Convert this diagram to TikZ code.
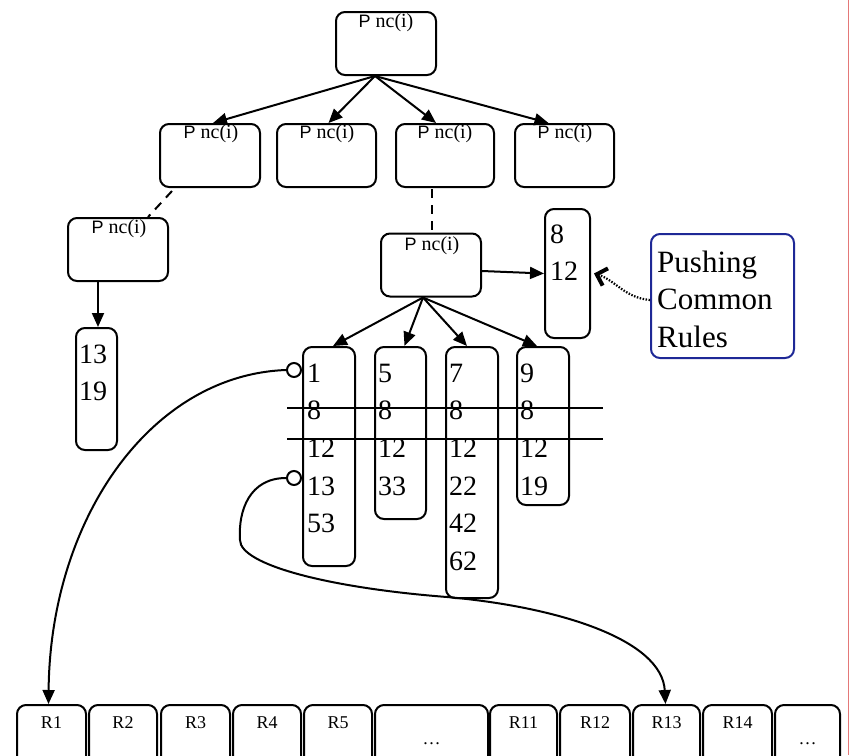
\documentclass[tikz,border=0pt]{standalone}
\usepackage{fontspec}
\setmainfont{Liberation Serif}
\newfontfamily\arialfam{Liberation Sans}
\usetikzlibrary{arrows.meta}
\definecolor{ruleblue}{RGB}{30,40,150}
\definecolor{marginred}{RGB}{228,120,120}

\newcommand{\pnc}{{\arialfam\fontsize{18}{20}\selectfont P} nc(i)}

\begin{document}
\begin{tikzpicture}[x=1pt,y=-1pt,
  pbox/.style={draw, line width=2pt, rounded corners=9pt, inner sep=0pt, minimum width=#1, minimum height=63pt},
  pbox/.default=100pt,
  lbox/.style={draw, line width=2pt, rounded corners=9pt, inner sep=0pt},
  rbox/.style={draw, line width=2pt, rounded corners=9pt, inner sep=0pt, minimum height=70pt},
  ptitle/.style={font=\fontsize{20}{22}\selectfont, inner sep=0pt, anchor=base},
  % multi-line lists are anchored at the baseline of their last line
  nums/.style={font=\fontsize{28}{37.7}\selectfont, inner sep=0pt, align=left, anchor=base west},
  rlab/.style={font=\fontsize{18}{20}\selectfont, inner sep=0pt, anchor=base},
  arr/.style={line width=2pt, -{Triangle[length=14pt,width=12pt]}},
  dashedge/.style={line width=2pt, dash pattern=on 9pt off 7pt},
  strike/.style={line width=2pt},
  hook/.style={draw, circle, line width=2pt, fill=white, minimum size=14pt, inner sep=0pt},
]
\useasboundingbox (0,0) rectangle (850,755);
\clip (0,0) rectangle (850,755);

% page margin rule
\draw[marginred, line width=1pt] (848,0) -- (848,755);

% tree of P nc(i) boxes
\node[pbox] (top) at (386,43.5) {};
\node[ptitle] (topt) at (386,27) {\pnc};
\node[pbox] (A) at (210,155.5) {};
\node[ptitle] (At) at (211,138) {\pnc};
\node[pbox=99pt] (B) at (326.5,155.5) {};
\node[ptitle] (Bt) at (327,138) {\pnc};
\node[pbox=98pt] (C) at (445,155.5) {};
\node[ptitle] (Ct) at (445,138) {\pnc};
\node[pbox=99pt] (D) at (564.5,155.5) {};
\node[ptitle] (Dt) at (565,138) {\pnc};
\node[pbox] (L) at (118,249.5) {};
\node[ptitle] (Lt) at (119,233) {\pnc};
\node[pbox] (R) at (431,265) {};
\node[ptitle] (Rt) at (432,250) {\pnc};

\draw[arr] ([xshift=-11pt]top.south) -- ([xshift=3pt]A.north);
\draw[arr] ([xshift=-11pt]top.south) -- ([xshift=2pt]B.north);
\draw[arr] ([xshift=-11pt]top.south) -- ([xshift=-9pt]C.north);
\draw[arr] ([xshift=-11pt]top.south) -- ([xshift=-16pt]D.north);

\draw[dashedge] ([xshift=-38pt,yshift=-3pt]A.south) -- ([xshift=30pt]L.north);
\draw[dashedge] ([xshift=-13pt,yshift=-1pt]C.south) -- ([xshift=-13pt]C.south |- R.north);

% rule lists
\node[lbox, minimum width=41pt, minimum height=122pt] (N1) at (96.5,389) {};
\node[nums] (N1t) at (79,400.7) {13\\19};
\node[lbox, minimum width=45pt, minimum height=129pt] (N2) at (567.5,273.5) {};
\node[nums] (N2t) at (550,280.7) {8\\12};

\node[lbox, minimum width=52pt, minimum height=219pt] (K1) at (329,456.5) {};
\node[nums] (K1t) at (307,532.8) {1\\8\\12\\13\\53};
\node[lbox, minimum width=51pt, minimum height=172pt] (K2) at (400.5,433) {};
\node[nums] (K2t) at (378,495.1) {5\\8\\12\\33};
\node[lbox, minimum width=52pt, minimum height=251pt] (K3) at (472,472.5) {};
\node[nums] (K3t) at (449,570.5) {7\\8\\12\\22\\42\\62};
\node[lbox, minimum width=52pt, minimum height=158pt] (K4) at (543,426) {};
\node[nums] (K4t) at (520,495.1) {9\\8\\12\\19};

\draw[arr] ([xshift=-20pt]L.south) -- ([xshift=-20pt]L.south |- N1.north);
\draw[arr] ([yshift=-6pt]R.east) -- (N2.west);
\draw[arr] ([xshift=-8pt]R.south) -- ([xshift=4pt]K1.north);
\draw[arr] ([xshift=-8pt]R.south) -- ([xshift=4pt]K2.north);
\draw[arr] ([xshift=-8pt]R.south) -- ([xshift=-5pt]K3.north);
\draw[arr] ([xshift=-8pt]R.south) -- ([xshift=-6pt]K4.north);

% common rules struck through
\coordinate (s1a) at (287,408);
\coordinate (s1b) at (603,408);
\coordinate (s2a) at (287,439);
\coordinate (s2b) at (603,439);
\draw[strike] (s1a) -- (s1b);
\draw[strike] (s2a) -- (s2b);

% note box
\node[lbox, draw=ruleblue, minimum width=143pt, minimum height=124pt] (push) at (722.5,296) {};
\node[font=\fontsize{31}{37.5}\selectfont, inner sep=0pt, align=left, anchor=base west] (pusht) at (657,347) {Pushing\\Common\\Rules};
\draw[line width=2.2pt, dash pattern=on 1.5pt off 1.5pt, -{Straight Barb[length=9pt,width=18pt,line width=4pt]}]
  ([yshift=-4pt]push.west) .. controls (625,298) and (615,280) .. ([xshift=3pt]N2.east);

% rule table
\foreach \nm/\xa/\xb/\lab in {r1/17/86/R1, r2/89/157/R2, r3/161/230/R3, r4/233/301/R4, r5/304/372/R5,
  r11/490/557/R11, r12/560/630/R12, r13/633/700/R13, r14/703/772/R14} {
  \pgfmathsetmacro{\w}{\xb-\xa}
  \pgfmathsetmacro{\cx}{(\xa+\xb)/2}
  \node[rbox, minimum width=\w pt] (\nm) at (\cx,740) {};
  \node[rlab] (\nm t) at (\cx,728) {\lab};
}
\node[rbox, minimum width=113pt] (rd1) at (431.5,740) {};
\node[rlab] (rd1t) at (431.5,744) {\dots};
\node[rbox, minimum width=65pt] (rd2) at (807.5,740) {};
\node[rlab] (rd2t) at (807.5,744) {\dots};

% pointers into the rule table
\node[hook] (h1) at (294,370) {};
\node[hook] (h2) at (294,478) {};
\draw[arr] (h1.west) .. controls (150,375) and (50,520) .. ([xshift=-3pt]r1.north);
\draw[arr] (h2.west) .. controls (250,478) and (238,510) .. (240,540)
  .. controls (240,565) and (330,588) .. (447,597)
  .. controls (560,607) and (662,640) .. ([xshift=-1pt]r13.north);
\end{tikzpicture}
\end{document}
